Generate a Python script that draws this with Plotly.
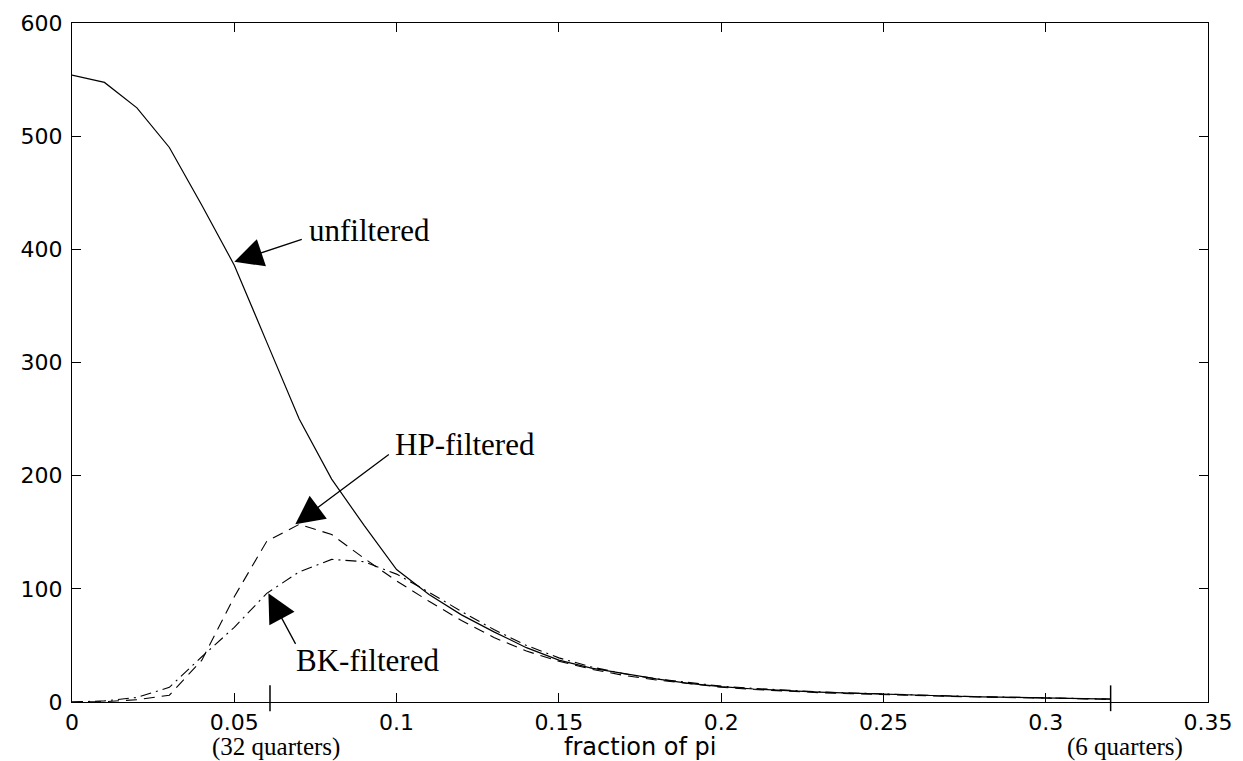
import plotly.graph_objects as go

freq = [round(0.01 * i, 2) for i in range(33)]

unfiltered = [554, 547.5, 525, 490, 439, 386, 318, 250, 197, 156, 117, 95, 77, 62, 48,
              37, 30, 25, 20.5, 16.5, 13.5, 11.5, 10, 8.8, 7.8, 6.8, 6, 5.3, 4.6, 4, 3.4, 2.9, 2.5]
hp_filtered = [0, 0.3, 2, 6, 37, 93, 142, 157, 148, 127, 107, 89, 72, 57, 45,
               36, 29, 23.5, 19.5, 16, 13, 11, 9.5, 8.3, 7.3, 6.4, 5.7, 5, 4.4, 3.8, 3.3, 2.8, 2.4]
bk_filtered = [0, 1, 4, 13, 40, 66, 96, 115, 126, 124, 113, 97, 80, 64, 50,
               39, 31, 25, 20.5, 17, 14, 12, 10.3, 9, 8, 7, 6.1, 5.4, 4.7, 4.1, 3.5, 3, 2.6]

x_ticks = [0, 0.05, 0.1, 0.15, 0.2, 0.25, 0.3, 0.35]
x_ticktext = ["0", "0.05", "0.1", "0.15", "0.2", "0.25", "0.3", "0.35"]
y_ticks = [0, 100, 200, 300, 400, 500, 600]
y_ticktext = ["0", "100", "200", "300", "400", "500", "600"]

period_marks = [0.061, 0.32]
period_labels = ["(32 quarters)", "(6 quarters)"]
period_label_x = [0.063, 0.3245]

SERIF = "Liberation Serif, Times New Roman, serif"
SANS = "DejaVu Sans, Arial, sans-serif"

fig = go.Figure()
fig.add_trace(go.Scatter(x=freq, y=unfiltered, mode="lines",
                         line=dict(color="black", width=1.2), name="unfiltered"))
fig.add_trace(go.Scatter(x=freq, y=hp_filtered, mode="lines",
                         line=dict(color="black", width=1.1, dash="11px,7px"), name="HP-filtered"))
fig.add_trace(go.Scatter(x=freq, y=bk_filtered, mode="lines",
                         line=dict(color="black", width=1.1, dash="11px,5px,2px,5px"), name="BK-filtered"))

# long period ticks crossing the x axis
for xm in period_marks:
    fig.add_shape(type="line", xref="x", yref="paper", x0=xm, x1=xm, y0=-0.0135, y1=0.0245,
                  line=dict(color="black", width=1.5))

BOTTOM_Y = -0.0665
for lab, xl in zip(period_labels, period_label_x):
    fig.add_annotation(x=xl, y=BOTTOM_Y, xref="x", yref="paper", text=lab, showarrow=False,
                       font=dict(family=SERIF, size=25, color="black"),
                       xanchor="center", yanchor="middle")

fig.add_annotation(x=0.175, y=BOTTOM_Y, xref="x", yref="paper", text="fraction of pi", showarrow=False,
                   font=dict(family=SANS, size=24, color="black"),
                   xanchor="center", yanchor="middle")

# arrows
arrow_common = dict(showarrow=True, arrowhead=2, arrowsize=4.4, arrowwidth=1.3,
                    arrowcolor="black", text="", xref="x", yref="y")
fig.add_annotation(x=freq[5], y=unfiltered[5] + 3, ax=69, ay=-23, **arrow_common)
fig.add_annotation(x=freq[7] - 0.0012, y=hp_filtered[7], ax=95, ay=-71, **arrow_common)
fig.add_annotation(x=freq[6] + 0.0005, y=bk_filtered[6], ax=28, ay=52, **arrow_common)

# curve labels
label_font = dict(family=SERIF, size=31, color="black")
fig.add_annotation(x=0.0725, y=416.8, text="unfiltered", showarrow=False, font=label_font,
                   xanchor="left", yanchor="middle", xref="x", yref="y")
fig.add_annotation(x=0.099, y=227.7, text="HP-filtered", showarrow=False, font=label_font,
                   xanchor="left", yanchor="middle", xref="x", yref="y")
fig.add_annotation(x=0.0685, y=36.8, text="BK-filtered", showarrow=False, font=label_font,
                   xanchor="left", yanchor="middle", xref="x", yref="y")

axis_common = dict(showgrid=False, zeroline=False, showline=True, linecolor="black", linewidth=1.3,
                   mirror="allticks", ticks="inside", ticklen=9, tickwidth=1, tickcolor="black",
                   tickfont=dict(family=SANS, size=22, color="black"))

fig.update_xaxes(range=[0, 0.35], tickvals=x_ticks, ticktext=x_ticktext,
                 ticklabelstandoff=0, **axis_common)
fig.update_yaxes(range=[0, 600], tickvals=y_ticks, ticktext=y_ticktext,
                 ticklabelstandoff=4, **axis_common)

fig.update_layout(width=1243, height=761, margin=dict(l=72, r=35, t=23, b=59),
                  plot_bgcolor="white", paper_bgcolor="white", showlegend=False)

fig.write_html("out.html")
